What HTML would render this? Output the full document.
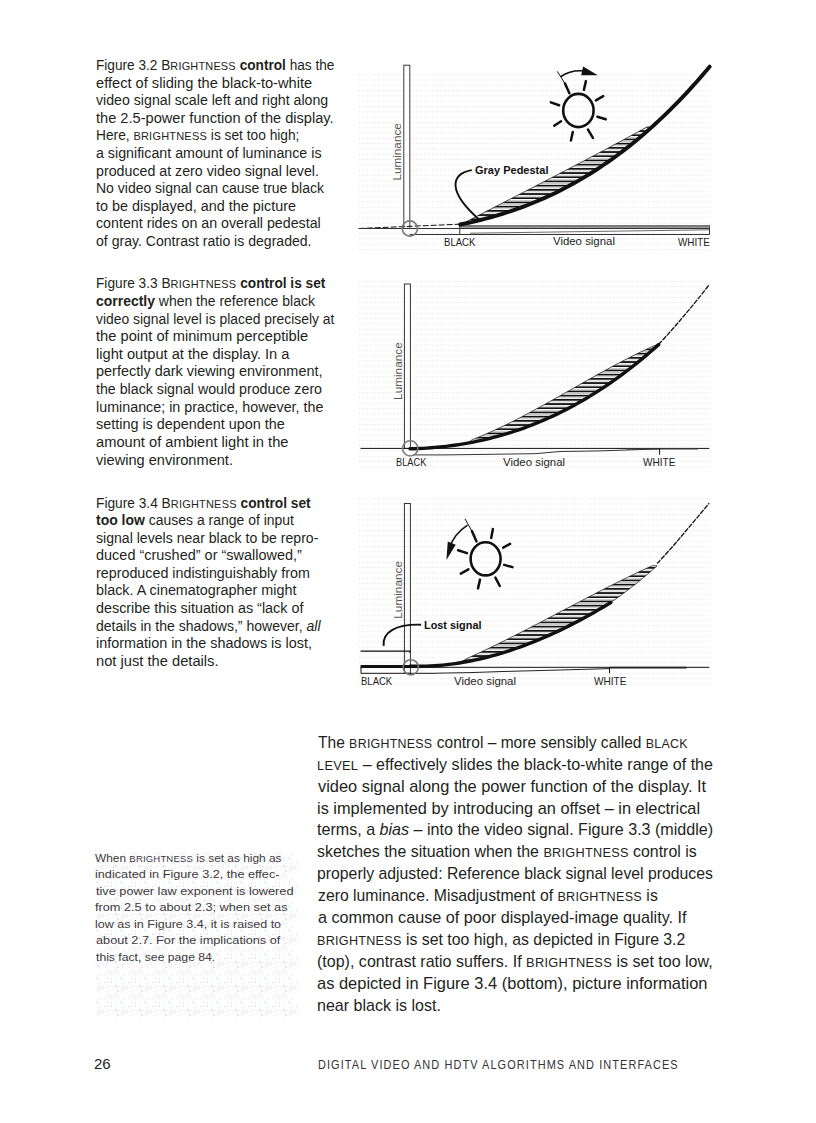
<!DOCTYPE html>
<html><head><meta charset="utf-8"><title>Brightness control</title><style>
html,body{margin:0;padding:0;background:#fff;}
body{width:816px;height:1123px;position:relative;overflow:hidden;font-family:"Liberation Sans",sans-serif;}
.ln{position:absolute;white-space:nowrap;transform-origin:0 0;color:#231f20;}
.cap{font-size:14px;line-height:1.149;}
.note{font-size:11.6px;line-height:1.149;color:#3c3a3b;}
.main{font-size:17px;line-height:1.149;}
.folio{font-size:14.5px;line-height:1.149;}
.foot{font-size:12.2px;line-height:1.149;letter-spacing:1.2px;color:#333;}
.lab{font-size:10.2px;line-height:1.149;color:#1c1c1c;}
.labb{font-size:10.8px;line-height:1.149;font-weight:bold;color:#111;}
.sc{font-size:0.8em;letter-spacing:0.02em;}
b{font-weight:bold;}
i{font-style:italic;}
svg{position:absolute;left:0;top:0;}
</style></head>
<body>
<svg width="816" height="1123" viewBox="0 0 816 1123"><defs>
<pattern id="dots" width="5.4" height="5.3" patternUnits="userSpaceOnUse"><rect x="0" y="0" width="1" height="1" fill="#f2d4f2"/><rect x="2.7" y="0" width="1" height="1" fill="#d6efd6"/></pattern>
<pattern id="hatch" width="8" height="4.2" patternUnits="userSpaceOnUse"><rect x="0" y="0" width="8" height="1.7" fill="#111"/><rect x="0" y="2.6" width="8" height="0.9" fill="#bdbdbd"/></pattern>
<pattern id="rdots" width="24" height="24" patternUnits="userSpaceOnUse"><rect x="10" y="4" width="1" height="1" fill="#f8d4f8"/><rect x="20" y="1" width="1" height="1" fill="#f8d4f8"/><rect x="17" y="3" width="1" height="1" fill="#f6f4cc"/><rect x="18" y="1" width="1" height="1" fill="#d4f4f8"/><rect x="6" y="1" width="1" height="1" fill="#f8d4f8"/><rect x="13" y="13" width="1" height="1" fill="#f8d4f8"/><rect x="7" y="2" width="1" height="1" fill="#d4f4f8"/><rect x="13" y="1" width="1" height="1" fill="#d4f4f8"/><rect x="3" y="7" width="1" height="1" fill="#d4f4f8"/><rect x="1" y="18" width="1" height="1" fill="#d4f4f8"/><rect x="12" y="1" width="1" height="1" fill="#d4f4f8"/><rect x="1" y="17" width="1" height="1" fill="#d4f4f8"/><rect x="9" y="13" width="1" height="1" fill="#d4f4f8"/><rect x="18" y="9" width="1" height="1" fill="#d4f4f8"/><rect x="21" y="5" width="1" height="1" fill="#f8d4f8"/><rect x="18" y="18" width="1" height="1" fill="#d4f4f8"/><rect x="11" y="3" width="1" height="1" fill="#d4f4f8"/><rect x="22" y="2" width="1" height="1" fill="#d4f4f8"/><rect x="1" y="19" width="1" height="1" fill="#d4f4f8"/><rect x="15" y="21" width="1" height="1" fill="#d4f4f8"/><rect x="13" y="10" width="1" height="1" fill="#f8d4f8"/><rect x="18" y="14" width="1" height="1" fill="#f6f4cc"/><rect x="9" y="7" width="1" height="1" fill="#d4f4f8"/><rect x="22" y="7" width="1" height="1" fill="#f8d4f8"/><rect x="16" y="15" width="1" height="1" fill="#f6f4cc"/><rect x="23" y="14" width="1" height="1" fill="#f6f4cc"/><rect x="19" y="2" width="1" height="1" fill="#f8d4f8"/><rect x="16" y="13" width="1" height="1" fill="#d4f4f8"/><rect x="15" y="13" width="1" height="1" fill="#f8d4f8"/><rect x="21" y="2" width="1" height="1" fill="#d4f4f8"/><rect x="18" y="10" width="1" height="1" fill="#f6f4cc"/><rect x="22" y="11" width="1" height="1" fill="#d4f4f8"/><rect x="15" y="18" width="1" height="1" fill="#f8d4f8"/><rect x="2" y="2" width="1" height="1" fill="#f6f4cc"/><rect x="15" y="22" width="1" height="1" fill="#f8d4f8"/><rect x="1" y="23" width="1" height="1" fill="#f6f4cc"/><rect x="20" y="18" width="1" height="1" fill="#f8d4f8"/><rect x="9" y="22" width="1" height="1" fill="#f8d4f8"/><rect x="21" y="11" width="1" height="1" fill="#f8d4f8"/><rect x="14" y="11" width="1" height="1" fill="#d4f4f8"/><rect x="19" y="3" width="1" height="1" fill="#f8d4f8"/><rect x="1" y="6" width="1" height="1" fill="#f6f4cc"/><rect x="4" y="23" width="1" height="1" fill="#d4f4f8"/><rect x="12" y="12" width="1" height="1" fill="#f8d4f8"/><rect x="2" y="5" width="1" height="1" fill="#f8d4f8"/><rect x="12" y="17" width="1" height="1" fill="#f6f4cc"/><rect x="4" y="13" width="1" height="1" fill="#d4f4f8"/><rect x="8" y="22" width="1" height="1" fill="#f8d4f8"/><rect x="11" y="21" width="1" height="1" fill="#f8d4f8"/><rect x="7" y="4" width="1" height="1" fill="#f8d4f8"/><rect x="5" y="4" width="1" height="1" fill="#d4f4f8"/><rect x="21" y="7" width="1" height="1" fill="#f8d4f8"/><rect x="5" y="8" width="1" height="1" fill="#f6f4cc"/><rect x="0" y="4" width="1" height="1" fill="#f8d4f8"/><rect x="17" y="11" width="1" height="1" fill="#d4f4f8"/><rect x="4" y="22" width="1" height="1" fill="#d4f4f8"/><rect x="19" y="20" width="1" height="1" fill="#f8d4f8"/><rect x="14" y="21" width="1" height="1" fill="#d4f4f8"/><rect x="3" y="15" width="1" height="1" fill="#f8d4f8"/><rect x="2" y="6" width="1" height="1" fill="#f8d4f8"/><rect x="5" y="3" width="1" height="1" fill="#f6f4cc"/><rect x="19" y="1" width="1" height="1" fill="#f8d4f8"/><rect x="0" y="18" width="1" height="1" fill="#d4f4f8"/><rect x="11" y="19" width="1" height="1" fill="#f8d4f8"/><rect x="19" y="12" width="1" height="1" fill="#d4f4f8"/><rect x="20" y="8" width="1" height="1" fill="#f6f4cc"/><rect x="19" y="11" width="1" height="1" fill="#f8d4f8"/><rect x="3" y="3" width="1" height="1" fill="#f8d4f8"/><rect x="14" y="15" width="1" height="1" fill="#f8d4f8"/><rect x="9" y="2" width="1" height="1" fill="#d4f4f8"/></pattern>
</defs>
<rect x="358.5" y="70.5" width="352" height="181" fill="url(#dots)"/>
<rect x="358.5" y="277.5" width="352" height="193" fill="url(#dots)"/>
<rect x="358.5" y="495" width="352" height="194" fill="url(#dots)"/>
<rect x="94.5" y="853" width="203.5" height="165" fill="url(#rdots)"/>
<rect x="403.8" y="65.2" width="6" height="163.3" fill="#fff" stroke="#3a3a3a" stroke-width="1"/>
<path d="M358.7,228.5 L459.8,224.2" stroke="#111" stroke-width="1" stroke-dasharray="6,2" fill="none"/>
<path d="M358.7,228.5 L709.5,228.5 M409.8,234.5 L709.5,234.5 M459.8,224 L459.8,234.5 M709.5,225 L709.5,234.5" stroke="#333" stroke-width="1" fill="none"/>
<path d="M460,226.3 L709.6,226.3" stroke="#7a7a7a" stroke-width="2.7" fill="none"/>
<path d="M470,233.2 L709,229.8" stroke="#444" stroke-width="0.8" fill="none"/>
<path d="M460.20,224.50 L465.12,223.50 L470.04,222.44 L474.95,221.32 L479.87,220.14 L484.79,218.89 L489.71,217.57 L494.63,216.19 L499.54,214.74 L504.46,213.21 L509.38,211.62 L514.30,209.95 L519.22,208.20 L524.13,206.38 L529.05,204.48 L533.97,202.50 L538.89,200.43 L543.81,198.29 L548.72,196.05 L553.64,193.74 L558.56,191.33 L563.48,188.84 L568.39,186.25 L573.31,183.58 L578.23,180.80 L583.15,177.94 L588.07,174.97 L592.98,171.91 L597.90,168.75 L602.82,165.49 L607.74,162.12 L612.66,158.65 L617.57,155.07 L622.49,151.39 L627.41,147.60 L632.33,143.69 L637.25,139.68 L642.16,135.55 L647.08,131.30 L652.00,126.94 L652.00,126.94 L647.13,126.89 L642.26,129.56 L637.38,132.22 L632.51,134.87 L627.64,137.51 L622.77,140.14 L617.90,142.76 L613.03,145.37 L608.15,147.97 L603.28,150.57 L598.41,153.16 L593.54,155.74 L588.67,158.31 L583.79,160.88 L578.92,163.44 L574.05,165.99 L569.18,168.54 L564.31,171.09 L559.44,173.62 L554.56,176.16 L549.69,178.69 L544.82,181.21 L539.95,183.74 L535.08,186.26 L530.21,188.77 L525.33,191.29 L520.46,193.80 L515.59,196.31 L510.72,198.82 L505.85,201.32 L500.97,203.83 L496.10,206.33 L491.23,208.84 L486.36,211.35 L481.49,213.85 L476.62,216.36 L471.74,218.87 L466.87,221.38 L462.00,223.89 Z" fill="url(#hatch)" stroke="#111" stroke-width="0.7"/>
<path d="M460.20,224.50 L464.43,223.64 L468.65,222.75 L472.88,221.80 L477.11,220.81 L481.34,219.77 L485.56,218.69 L489.79,217.55 L494.02,216.36 L498.24,215.13 L502.47,213.84 L506.70,212.50 L510.93,211.10 L515.15,209.65 L519.38,208.14 L523.61,206.58 L527.83,204.96 L532.06,203.27 L536.29,201.53 L540.52,199.73 L544.74,197.87 L548.97,195.94 L553.20,193.95 L557.42,191.90 L561.65,189.77 L565.88,187.59 L570.11,185.33 L574.33,183.01 L578.56,180.62 L582.79,178.15 L587.01,175.62 L591.24,173.01 L595.47,170.33 L599.69,167.57 L603.92,164.74 L608.15,161.84 L612.38,158.85 L616.60,155.79 L620.83,152.65 L625.06,149.42 L629.28,146.12 L633.51,142.74 L637.74,139.27 L641.97,135.72 L646.19,132.08 L650.42,128.35 L654.65,124.54 L658.87,120.65 L663.10,116.66 L667.33,112.58 L671.56,108.41 L675.78,104.15 L680.01,99.80 L684.24,95.36 L688.46,90.81 L692.69,86.18 L696.92,81.44 L701.15,76.61 L705.37,71.68 L709.60,66.66" stroke="#111" stroke-width="3.9" fill="none" stroke-linecap="round"/>
<circle cx="409.8" cy="228.5" r="7.6" fill="none" stroke="#7a7a7a" stroke-width="1.6"/>
<path d="M471.8,170.1 C450,174 448,192 478.7,219.1" stroke="#111" stroke-width="1.9" fill="none"/>
<ellipse cx="578.4" cy="110.5" rx="15.2" ry="16.6" fill="none" stroke="#111" stroke-width="2.6"/><line x1="585.9" y1="81.1" x2="583.9" y2="89.9" stroke="#111" stroke-width="2.5" stroke-linecap="round"/><line x1="603.2" y1="96.1" x2="595.9" y2="100.4" stroke="#111" stroke-width="2.5" stroke-linecap="round"/><line x1="597.4" y1="116.7" x2="605.7" y2="119.3" stroke="#111" stroke-width="2.5" stroke-linecap="round"/><line x1="588" y1="129.6" x2="592.9" y2="137.9" stroke="#111" stroke-width="2.5" stroke-linecap="round"/><line x1="572.8" y1="132" x2="570.9" y2="140.5" stroke="#111" stroke-width="2.5" stroke-linecap="round"/><line x1="561.1" y1="121.3" x2="554.2" y2="125.7" stroke="#111" stroke-width="2.5" stroke-linecap="round"/><line x1="550.8" y1="102.4" x2="559.1" y2="105.3" stroke="#111" stroke-width="2.5" stroke-linecap="round"/><line x1="557.2" y1="71.3" x2="565" y2="83.5" stroke="#111" stroke-width="1"/><line x1="565" y1="83.5" x2="569.4" y2="93.3" stroke="#111" stroke-width="2.5" stroke-linecap="round"/>
<path d="M561,76.5 Q570,70 583,70.8" stroke="#111" stroke-width="1.6" fill="none"/>
<path d="M583.1,66.4 L597.8,75.2 L581.2,75.2 Z" fill="#111"/>
<rect x="404.4" y="284" width="6" height="164.39999999999998" fill="#fff" stroke="#333" stroke-width="1"/>
<path d="M360.5,448.4 L709.3,448.4" stroke="#111" stroke-width="1" fill="none"/>
<path d="M413,454.9 L446,454.9 L535,453.7 L560,451.5 L600,450.9 L626,450 L659.6,448.9" stroke="#333" stroke-width="1" fill="none"/>
<path d="M626,448.8 L698,448.8" stroke="#333" stroke-width="1.6" fill="none"/>
<path d="M659.6,448.4 L659.6,454.9" stroke="#111" stroke-width="1" fill="none"/>
<path d="M467.40,443.16 L472.30,442.24 L477.21,441.25 L482.11,440.18 L487.01,439.05 L491.91,437.83 L496.82,436.54 L501.72,435.17 L506.62,433.72 L511.52,432.20 L516.43,430.59 L521.33,428.90 L526.23,427.13 L531.13,425.27 L536.04,423.33 L540.94,421.31 L545.84,419.20 L550.74,417.00 L555.65,414.71 L560.55,412.34 L565.45,409.87 L570.35,407.31 L575.26,404.66 L580.16,401.92 L585.06,399.09 L589.96,396.15 L594.87,393.13 L599.77,390.00 L604.67,386.78 L609.57,383.46 L614.48,380.04 L619.38,376.52 L624.28,372.90 L629.18,369.17 L634.09,365.34 L638.99,361.41 L643.89,357.37 L648.79,353.22 L653.70,348.97 L658.60,344.61 L658.60,344.61 L653.70,345.95 L648.79,348.17 L643.89,350.46 L638.99,352.81 L634.09,355.22 L629.18,357.68 L624.28,360.19 L619.38,362.75 L614.48,365.35 L609.57,367.98 L604.67,370.65 L599.77,373.35 L594.87,376.08 L589.96,378.82 L585.06,381.58 L580.16,384.35 L575.26,387.13 L570.35,389.91 L565.45,392.69 L560.55,395.47 L555.65,398.23 L550.74,400.99 L545.84,403.72 L540.94,406.43 L536.04,409.12 L531.13,411.77 L526.23,414.39 L521.33,416.97 L516.43,419.50 L511.52,421.99 L506.62,424.42 L501.72,426.80 L496.82,429.12 L491.91,431.37 L487.01,433.55 L482.11,435.66 L477.21,437.69 L472.30,439.63 L467.40,443.16 Z" fill="url(#hatch)" stroke="#111" stroke-width="0.7"/>
<path d="M410.00,448.81 L414.21,448.69 L418.43,448.53 L422.64,448.33 L426.85,448.08 L431.07,447.78 L435.28,447.43 L439.49,447.04 L443.71,446.59 L447.92,446.10 L452.14,445.56 L456.35,444.96 L460.56,444.32 L464.78,443.62 L468.99,442.87 L473.20,442.06 L477.42,441.20 L481.63,440.29 L485.84,439.32 L490.06,438.30 L494.27,437.22 L498.48,436.08 L502.70,434.89 L506.91,433.63 L511.13,432.32 L515.34,430.95 L519.55,429.52 L523.77,428.03 L527.98,426.47 L532.19,424.86 L536.41,423.18 L540.62,421.44 L544.83,419.64 L549.05,417.77 L553.26,415.84 L557.47,413.84 L561.69,411.77 L565.90,409.64 L570.12,407.44 L574.33,405.17 L578.54,402.84 L582.76,400.43 L586.97,397.96 L591.18,395.41 L595.40,392.79 L599.61,390.11 L603.82,387.35 L608.04,384.51 L612.25,381.61 L616.46,378.63 L620.68,375.57 L624.89,372.44 L629.11,369.23 L633.32,365.95 L637.53,362.59 L641.75,359.15 L645.96,355.63 L650.17,352.04 L654.39,348.36 L658.60,344.61" stroke="#111" stroke-width="3.4" fill="none" stroke-linecap="round"/>
<path d="M658.60,344.30 C659.40,343.47 660.58,342.38 663.40,339.30 C666.22,336.22 671.68,330.18 675.50,325.80 C679.32,321.42 682.72,317.27 686.30,313.00 C689.88,308.73 693.18,304.92 697.00,300.20 C700.82,295.48 707.17,287.28 709.20,284.70" stroke="#111" stroke-width="1.3" fill="none" stroke-dasharray="5,1"/>
<circle cx="410.2" cy="448.4" r="7.6" fill="none" stroke="#7a7a7a" stroke-width="1.6"/>
<rect x="404.4" y="503.5" width="6" height="169.79999999999995" fill="none" stroke="#333" stroke-width="1"/>
<path d="M360.6,667.3 L709.3,667.3 M361,673.3 L436,673.3 M361,667.3 L361,673.3 M609.5,667.3 L609.5,673.3" stroke="#111" stroke-width="1" fill="none"/>
<path d="M436,673.2 L470,672.6 L500,671.6 L530,670.8 L560,670 L609.5,668.6" stroke="#222" stroke-width="1" fill="none"/>
<path d="M609.5,667.6 L686.6,667.6" stroke="#222" stroke-width="1.8" fill="none"/>
<path d="M360.6,651.1 L410,651.1 L410,653" stroke="#111" stroke-width="1.2" fill="none"/>
<path d="M360.6,666.6 L411,666.6" stroke="#111" stroke-width="3" fill="none"/>
<path d="M462.00,661.54 L467.01,660.69 L472.01,659.78 L477.02,658.80 L482.02,657.76 L487.03,656.65 L492.03,655.46 L497.04,654.21 L502.04,652.87 L507.05,651.47 L512.05,649.98 L517.06,648.42 L522.06,646.77 L527.07,645.05 L532.07,643.24 L537.08,641.34 L542.08,639.36 L547.09,637.28 L552.09,635.12 L557.10,632.86 L562.10,630.51 L567.11,628.06 L572.11,625.52 L577.12,622.87 L582.12,620.13 L587.13,617.28 L592.13,614.33 L597.14,611.27 L602.14,608.11 L607.15,604.84 L612.15,601.45 L617.16,597.96 L622.16,594.34 L627.17,590.62 L632.17,586.77 L637.18,582.81 L642.18,578.73 L647.19,574.52 L652.19,570.19 L657.20,565.73 L657.20,565.73 L652.19,565.70 L647.19,567.99 L642.18,570.31 L637.18,572.68 L632.17,575.07 L627.17,577.50 L622.16,579.95 L617.16,582.43 L612.15,584.94 L607.15,587.47 L602.14,590.02 L597.14,592.59 L592.13,595.18 L587.13,597.77 L582.12,600.38 L577.12,603.00 L572.11,605.63 L567.11,608.26 L562.10,610.89 L557.10,613.53 L552.09,616.16 L547.09,618.79 L542.08,621.41 L537.08,624.02 L532.07,626.62 L527.07,629.21 L522.06,631.79 L517.06,634.34 L512.05,636.88 L507.05,639.39 L502.04,641.88 L497.04,644.34 L492.03,646.78 L487.03,649.18 L482.02,651.55 L477.02,653.88 L472.01,656.18 L467.01,658.44 L462.00,661.54 Z" fill="url(#hatch)" stroke="#111" stroke-width="0.7"/>
<path d="M410.00,666.22 L414.10,666.30 L418.20,666.32 L422.29,666.27 L426.39,666.16 L430.49,665.98 L434.59,665.74 L438.69,665.44 L442.78,665.07 L446.88,664.63 L450.98,664.14 L455.08,663.59 L459.18,662.97 L463.27,662.29 L467.37,661.55 L471.47,660.76 L475.57,659.90 L479.67,658.99 L483.76,658.02 L487.86,656.99 L491.96,655.91 L496.06,654.77 L500.16,653.57 L504.25,652.32 L508.35,651.02 L512.45,649.66 L516.55,648.25 L520.64,646.79 L524.74,645.28 L528.84,643.71 L532.94,642.09 L537.04,640.43 L541.13,638.71 L545.23,636.95 L549.33,635.13 L553.43,633.27 L557.53,631.36 L561.62,629.41 L565.72,627.41 L569.82,625.36 L573.92,623.27 L578.02,621.14 L582.11,618.96 L586.21,616.73 L590.31,614.47 L594.41,612.16 L598.51,609.81 L602.60,607.42 L606.70,604.99 L610.80,602.52" stroke="#111" stroke-width="3.4" fill="none" stroke-linecap="round"/>
<path d="M657.00,563.50 C657.83,562.63 659.17,561.38 662.00,558.30 C664.83,555.22 670.17,549.38 674.00,545.00 C677.83,540.62 681.17,536.53 685.00,532.00 C688.83,527.47 692.97,522.60 697.00,517.80 C701.03,513.00 707.17,505.63 709.20,503.20" stroke="#111" stroke-width="1.3" fill="none" stroke-dasharray="5,1"/>
<circle cx="410.8" cy="667.3" r="7.6" fill="none" stroke="#7a7a7a" stroke-width="1.6"/>
<path d="M421.1,624.7 C396,624 382,632 383.7,645.8" stroke="#111" stroke-width="1.9" fill="none"/>
<ellipse cx="485.6" cy="558.8" rx="15.0" ry="16.6" fill="none" stroke="#111" stroke-width="2.6"/><line x1="492.9" y1="529.1" x2="491.2" y2="537.9" stroke="#111" stroke-width="2.5" stroke-linecap="round"/><line x1="510.1" y1="543.8" x2="503.2" y2="547.7" stroke="#111" stroke-width="2.5" stroke-linecap="round"/><line x1="504.2" y1="564.9" x2="512.5" y2="567.1" stroke="#111" stroke-width="2.5" stroke-linecap="round"/><line x1="495.4" y1="577.6" x2="499.8" y2="586" stroke="#111" stroke-width="2.5" stroke-linecap="round"/><line x1="480" y1="579.6" x2="478" y2="588.4" stroke="#111" stroke-width="2.5" stroke-linecap="round"/><line x1="468.4" y1="569.3" x2="460.8" y2="573.7" stroke="#111" stroke-width="2.5" stroke-linecap="round"/><line x1="458.1" y1="550.2" x2="467" y2="553.1" stroke="#111" stroke-width="2.5" stroke-linecap="round"/><line x1="465" y1="518.8" x2="471.9" y2="531.1" stroke="#111" stroke-width="1"/><line x1="471.9" y1="531.1" x2="476.5" y2="541.4" stroke="#111" stroke-width="2.5" stroke-linecap="round"/>
<path d="M467.5,525.2 Q454,534 449.5,548" stroke="#111" stroke-width="1.6" fill="none"/>
<path d="M446.4,560 L447.8,541.4 L455.7,544.8 Z" fill="#111"/>
<text x="0" y="0" transform="translate(401.4,180.6) rotate(-90)" font-family="Liberation Sans" font-size="10.3" fill="#555" textLength="57.4" lengthAdjust="spacingAndGlyphs">Luminance</text>
<text x="0" y="0" transform="translate(401.8,399.9) rotate(-90)" font-family="Liberation Sans" font-size="10.3" fill="#555" textLength="57.6" lengthAdjust="spacingAndGlyphs">Luminance</text>
<text x="0" y="0" transform="translate(401.8,618.7) rotate(-90)" font-family="Liberation Sans" font-size="10.3" fill="#555" textLength="57.7" lengthAdjust="spacingAndGlyphs">Luminance</text></svg>
<div class="ln cap" style="left:96.00px;top:57.21px;transform:scaleX(0.9742)">Figure 3.2 B<span class="sc">RIGHTNESS</span> <b>control</b> has the</div>
<div class="ln cap" style="left:96.22px;top:74.76px;transform:scaleX(1.0454)">effect of sliding the black-to-white</div>
<div class="ln cap" style="left:96.00px;top:92.31px;transform:scaleX(1.0114)">video signal scale left and right along</div>
<div class="ln cap" style="left:95.65px;top:109.86px;transform:scaleX(1.0433)">the 2.5-power function of the display.</div>
<div class="ln cap" style="left:96.00px;top:127.41px;transform:scaleX(0.9815)">Here, <span class="sc">BRIGHTNESS</span> is set too high;</div>
<div class="ln cap" style="left:96.22px;top:144.96px;transform:scaleX(1.0168)">a significant amount of luminance is</div>
<div class="ln cap" style="left:96.00px;top:162.51px;transform:scaleX(1.0160)">produced at zero video signal level.</div>
<div class="ln cap" style="left:96.00px;top:180.06px;transform:scaleX(0.9996)">No video signal can cause true black</div>
<div class="ln cap" style="left:96.00px;top:197.61px;transform:scaleX(1.0275)">to be displayed, and the picture</div>
<div class="ln cap" style="left:96.00px;top:215.16px;transform:scaleX(1.0169)">content rides on an overall pedestal</div>
<div class="ln cap" style="left:96.00px;top:232.71px;transform:scaleX(1.0047)">of gray. Contrast ratio is degraded.</div>
<div class="ln cap" style="left:95.92px;top:275.31px;transform:scaleX(0.9778)">Figure 3.3 B<span class="sc">RIGHTNESS</span> <b>control is set</b></div>
<div class="ln cap" style="left:96.46px;top:292.93px;transform:scaleX(0.9972)"><b>correctly</b> when the reference black</div>
<div class="ln cap" style="left:96.00px;top:310.55px;transform:scaleX(0.9916)">video signal level is placed precisely at</div>
<div class="ln cap" style="left:95.91px;top:328.17px;transform:scaleX(1.0482)">the point of minimum perceptible</div>
<div class="ln cap" style="left:96.00px;top:345.79px;transform:scaleX(1.0458)">light output at the display. In a</div>
<div class="ln cap" style="left:95.98px;top:363.41px;transform:scaleX(1.0322)">perfectly dark viewing environment,</div>
<div class="ln cap" style="left:95.66px;top:381.03px;transform:scaleX(1.0155)">the black signal would produce zero</div>
<div class="ln cap" style="left:96.00px;top:398.65px;transform:scaleX(1.0218)">luminance; in practice, however, the</div>
<div class="ln cap" style="left:96.00px;top:416.27px;transform:scaleX(1.0280)">setting is dependent upon the</div>
<div class="ln cap" style="left:96.21px;top:433.89px;transform:scaleX(1.0479)">amount of ambient light in the</div>
<div class="ln cap" style="left:96.26px;top:451.51px;transform:scaleX(1.0413)">viewing environment.</div>
<div class="ln cap" style="left:95.84px;top:494.61px;transform:scaleX(0.9801)">Figure 3.4 B<span class="sc">RIGHTNESS</span> <b>control set</b></div>
<div class="ln cap" style="left:96.27px;top:512.18px;transform:scaleX(0.9975)"><b>too low</b> causes a range of input</div>
<div class="ln cap" style="left:96.23px;top:529.75px;transform:scaleX(1.0061)">signal levels near black to be repro-</div>
<div class="ln cap" style="left:96.45px;top:547.32px;transform:scaleX(1.0336)">duced “crushed” or “swallowed,”</div>
<div class="ln cap" style="left:95.96px;top:564.89px;transform:scaleX(1.0215)">reproduced indistinguishably from</div>
<div class="ln cap" style="left:95.96px;top:582.46px;transform:scaleX(1.0262)">black. A cinematographer might</div>
<div class="ln cap" style="left:96.00px;top:600.03px;transform:scaleX(1.0250)">describe this situation as “lack of</div>
<div class="ln cap" style="left:96.45px;top:617.60px;transform:scaleX(1.0016)">details in the shadows,” however, <i>all</i></div>
<div class="ln cap" style="left:96.00px;top:635.17px;transform:scaleX(1.0275)">information in the shadows is lost,</div>
<div class="ln cap" style="left:95.84px;top:652.74px;transform:scaleX(1.0497)">not just the details.</div>
<div class="ln note" style="left:95.15px;top:851.02px;transform:scaleX(1.0250)">When <span class="sc">BRIGHTNESS</span> is set as high as</div>
<div class="ln note" style="left:95.30px;top:867.45px;transform:scaleX(1.0937)">indicated in Figure 3.2, the effec-</div>
<div class="ln note" style="left:96.17px;top:883.88px;transform:scaleX(1.0983)">tive power law exponent is lowered</div>
<div class="ln note" style="left:95.08px;top:900.31px;transform:scaleX(1.0982)">from 2.5 to about 2.3; when set as</div>
<div class="ln note" style="left:95.42px;top:916.74px;transform:scaleX(1.0816)">low as in Figure 3.4, it is raised to</div>
<div class="ln note" style="left:95.69px;top:933.17px;transform:scaleX(1.0960)">about 2.7. For the implications of</div>
<div class="ln note" style="left:96.23px;top:949.60px;transform:scaleX(1.0513)">this fact, see page 84.</div>
<div class="ln main" style="left:317.97px;top:732.84px;transform:scaleX(0.9143)">The <span class="sc">BRIGHTNESS</span> control – more sensibly called <span class="sc">BLACK</span></div>
<div class="ln main" style="left:317.27px;top:754.74px;transform:scaleX(0.9440)"><span class="sc">LEVEL</span> – effectively slides the black-to-white range of the</div>
<div class="ln main" style="left:317.88px;top:776.64px;transform:scaleX(0.9649)">video signal along the power function of the display. It</div>
<div class="ln main" style="left:317.10px;top:798.54px;transform:scaleX(0.9614)">is implemented by introducing an offset – in electrical</div>
<div class="ln main" style="left:317.05px;top:820.44px;transform:scaleX(0.9463)">terms, a <i>bias</i> – into the video signal. Figure 3.3 (middle)</div>
<div class="ln main" style="left:317.18px;top:842.34px;transform:scaleX(0.9357)">sketches the situation when the <span class="sc">BRIGHTNESS</span> control is</div>
<div class="ln main" style="left:317.36px;top:864.24px;transform:scaleX(0.9290)">properly adjusted: Reference black signal level produces</div>
<div class="ln main" style="left:317.82px;top:886.14px;transform:scaleX(0.9282)">zero luminance. Misadjustment of <span class="sc">BRIGHTNESS</span> is</div>
<div class="ln main" style="left:317.50px;top:908.04px;transform:scaleX(0.9521)">a common cause of poor displayed-image quality. If</div>
<div class="ln main" style="left:317.14px;top:929.94px;transform:scaleX(0.9292)"><span class="sc">BRIGHTNESS</span> is set too high, as depicted in Figure 3.2</div>
<div class="ln main" style="left:317.43px;top:951.84px;transform:scaleX(0.9430)">(top), contrast ratio suffers. If <span class="sc">BRIGHTNESS</span> is set too low,</div>
<div class="ln main" style="left:317.18px;top:973.74px;transform:scaleX(0.9679)">as depicted in Figure 3.4 (bottom), picture information</div>
<div class="ln main" style="left:317.10px;top:995.64px;transform:scaleX(0.9436)">near black is lost.</div>
<div class="ln folio" style="left:93.60px;top:1055.55px;transform:scaleX(1.0377)">26</div>
<div class="ln foot" style="left:317.88px;top:1057.51px;transform:scaleX(0.8981)">DIGITAL VIDEO AND HDTV ALGORITHMS AND INTERFACES</div>
<div class="ln lab" style="left:444.00px;top:236.71px;transform:scaleX(0.9410)">BLACK</div>
<div class="ln lab" style="left:553.33px;top:236.41px;transform:scaleX(1.1193)">Video signal</div>
<div class="ln lab" style="left:678.08px;top:236.71px;transform:scaleX(0.9674)">WHITE</div>
<div class="ln labb" style="left:475.22px;top:163.95px;transform:scaleX(1.0200)">Gray Pedestal</div>
<div class="ln lab" style="left:395.80px;top:457.41px;transform:scaleX(0.9103)">BLACK</div>
<div class="ln lab" style="left:503.42px;top:457.41px;transform:scaleX(1.1218)">Video signal</div>
<div class="ln lab" style="left:643.20px;top:457.41px;transform:scaleX(0.9865)">WHITE</div>
<div class="ln lab" style="left:361.40px;top:675.71px;transform:scaleX(0.9330)">BLACK</div>
<div class="ln lab" style="left:454.17px;top:675.71px;transform:scaleX(1.1210)">Video signal</div>
<div class="ln lab" style="left:593.60px;top:675.71px;transform:scaleX(0.9896)">WHITE</div>
<div class="ln labb" style="left:424.47px;top:619.15px;transform:scaleX(1.0090)">Lost signal</div>
</body></html>
